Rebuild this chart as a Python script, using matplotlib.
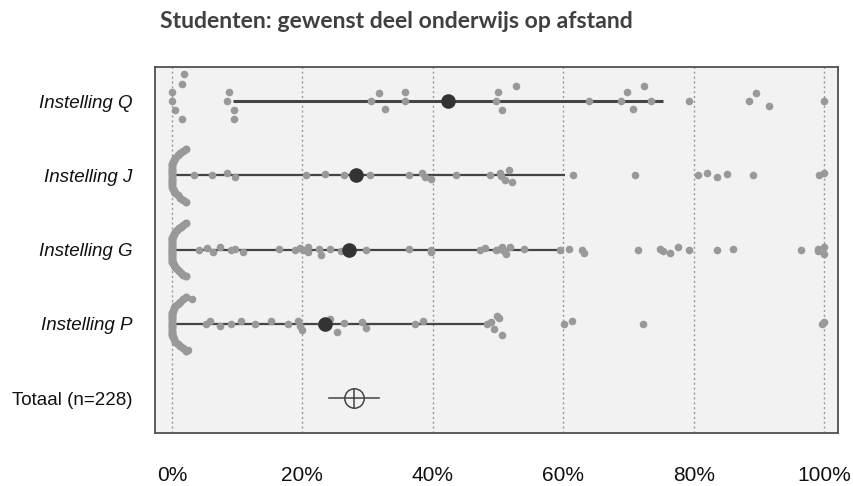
import numpy as np
import matplotlib
matplotlib.use('Agg')
import matplotlib.pyplot as plt

# rows, bottom to top
row_labels = ['Totaal (n=228)', 'Instelling P', 'Instelling G', 'Instelling J', 'Instelling Q']

# individual answers (% online wanted) and vertical jitter (px in reference)
q_vals = [0, 0, 0.5, 1.6, 1.5, 1.9, 8.7, 8.5, 9.5, 9.5, 31.7, 30.5, 32.7, 35.8, 35.8,
          50, 49.6, 50.6, 52.8, 63.9, 69.7, 68.9, 70.7, 72.3, 73.4, 79.3, 89.6, 88.4, 91.5, 100]
q_jit = [-9, 0, 9, 18, -17, -27, -9, 0, 9, 18, -8, 0, 8, -9, 0,
         -9, 0, 9, -15, 0, -9, 0, 8, -15, 0, 0, -8, 0, 5, 0]

j_vals = [3.4, 6.2, 8.5, 9.7, 20.5, 23.4, 26.3, 30.3, 36.3, 38.3, 38.8, 39.7,
          43.6, 48.7, 50.3, 50.4, 51.1, 51.7, 52.1, 61.5, 71.0,
          80.6, 82, 83.6, 85.1, 89, 99.2, 100]
j_jit = [0, 0, -2, 2, 0, -1, 0, 0, 0, -2, 2, 4,
         0, 0, -2, 1, 5, -5, 7, 0, 0,
         0, -2, 2, -1, 0, 0, -2]
j_zeros = 25

g_vals = [4.2, 5.3, 6.3, 7.4, 9.0, 9.6, 10.9,
          16.4, 18.9, 19.6, 20.1, 20.9, 20.8, 22.6, 22.8, 24.2, 25.9, 29.7,
          36.3, 39.7, 39.7,
          47.2, 48, 49.6, 50.3, 50.6, 50.9, 51.2, 51.8, 53.9, 59.5,
          60.8, 62.8, 63.1, 71.5, 74.8, 75.2, 76.4, 77.5, 79.2,
          83.6, 86.0, 96.4, 99, 99.1, 100, 100]
g_jit = [0, -2, 2, -3, 0, -1, 2,
         -1, 0, -2, 0, -3, 2, -1, 5, -1, 1, 0,
         -1, 0, 2,
         0, -2, 0, -1, -3, 1, 4, -3, -1, 0,
         -1, 0, 3, 0, -1, 1, 3, -3, 0,
         0, -1, 0, -1, 1, -3, 4]
g_zeros = 30

p_vals = [3.1, 2.5, 5.2, 5.8, 7.4, 9.0, 10.6, 12.8, 15.2, 17.8, 19.3, 19.6, 19.9,
          22.9, 24.2, 25.3, 26.3, 29.1, 29.7, 37.3, 38.5,
          48.3, 48.9, 49.9, 49.4, 50.6, 50.2, 60.1, 61.4, 72.2, 99.6, 100]
p_jit = [-25, 26, 0, -3, 2, 0, -3, 0, -3, 0, -3, 2, 6,
         0, -5, 8, -1, -2, 4, 0, -3,
         0, -2, -8, 5, 11, -6, 0, -3, 0, 0, -2]
p_zeros = 25

# mean and interval line per institution (P, G, J, Q)
means = [23.5, 27.1, 28.2, 42.3]
line_lo = [0, 0, 0, 9.4]
line_hi = [49, 59.5, 60.3, 75.2]

# total: mean with interval
tot_mean = 27.9
tot_lo = 24.0
tot_hi = 31.8

fig = plt.figure(figsize=(8.54, 4.86), dpi=100)
ax = fig.add_axes([155 / 854, 1 - 433 / 486, 683 / 854, 366 / 486])
ax.set_facecolor('#f2f2f2')

for x in range(0, 101, 20):
    ax.axvline(x, color='#999999', lw=1, ls=(0, (1.5, 2)), zorder=1)

dot_c = '#999999'


def bracket(n):
    # layout of the many 0% answers as a "(" shaped swarm
    t = np.linspace(-1, 1, n)
    u = np.clip((np.abs(t) - 0.42) / 0.58, 0, 1)
    return 2.1 * u ** 1.6, t * 0.36


rows = [(1, p_vals, p_jit, p_zeros), (2, g_vals, g_jit, g_zeros),
        (3, j_vals, j_jit, j_zeros), (4, q_vals, q_jit, 0)]

for i, (y, vals, jit, nz) in enumerate(rows):
    lw = 2.2 if y == 4 else 1.6
    ax.plot([line_lo[i], line_hi[i]], [y, y], color='#444444', lw=lw, zorder=2,
            solid_capstyle='butt')
    ax.plot(vals, y - np.array(jit) / 74.25, 'o', color=dot_c, ms=5.5, mew=0, zorder=3)
    if nz:
        dx, dy = bracket(nz)
        ax.plot(dx, y + dy, 'o', color=dot_c, ms=5.8, mew=0, zorder=3)
    ax.plot(means[i], y, 'o', color='#333333', ms=10.5, mew=0, zorder=4)

# total
ax.plot([tot_lo, tot_hi], [0, 0], color='#444444', lw=1.1, zorder=2)
ax.plot(tot_mean, 0, 'o', mfc='#f2f2f2', mec='#444444', ms=14, mew=1.1, zorder=3)
ax.plot(tot_mean, 0, '+', color='#444444', ms=14, mew=1.1, zorder=4)

ax.set_xlim(-2.6, 102.1)
ax.set_ylim(-0.47, 4.46)
ax.set_xticks(range(0, 101, 20))
ax.set_xticklabels([f'{x}%' for x in range(0, 101, 20)],
                   fontsize=15, family='Liberation Sans', color='#111111')
ax.set_yticks(range(5))
ax.set_yticklabels(row_labels, fontsize=13.5, family='Liberation Sans', color='#111111')
for lab in ax.get_yticklabels()[1:]:
    lab.set_style('italic')
ax.tick_params(axis='x', length=0, pad=24)
ax.tick_params(axis='y', length=0, pad=16)
for s in ax.spines.values():
    s.set_color('#505050')
    s.set_linewidth(1.3)

fig.text(160 / 854, 1 - 28 / 486, 'Studenten: gewenst deel onderwijs op afstand',
         fontsize=16.6, fontweight='bold', family='Lato', color='#404040', va='baseline')

fig.savefig('out.png', dpi=100, facecolor='white')
